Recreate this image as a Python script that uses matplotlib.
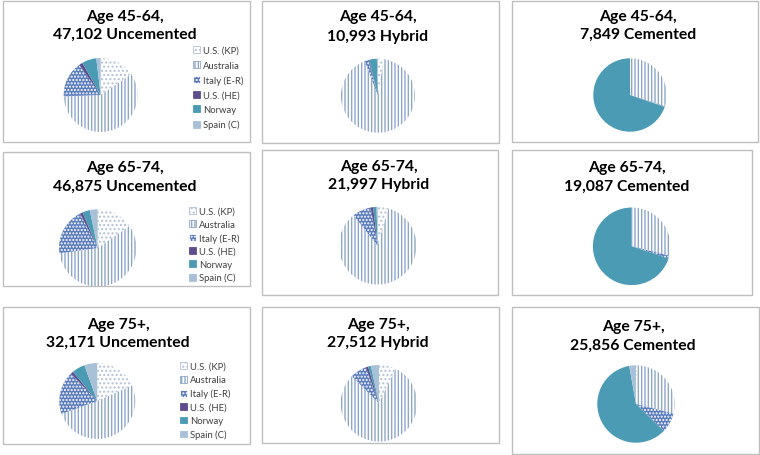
import matplotlib
matplotlib.use("Agg")
import matplotlib.pyplot as plt
from matplotlib.patches import Rectangle

plt.rcParams["font.family"] = ["Lato", "DejaVu Sans"]

W, H = 760, 456

countries = ["U.S. (KP)", "Australia", "Italy (E-R)", "U.S. (HE)", "Norway", "Spain (C)"]

# share (%) of each registry, clockwise from 12 o'clock
u45 = [15.5, 58.9, 15.8, 1.5, 6.4, 1.9]
h45 = [2.5, 91.7, 1.7, 0.3, 3.3, 0.5]
c45 = [0, 30.0, 0.3, 0, 69.7, 0]
u65 = [15.4, 57.4, 19.7, 1.1, 3.1, 3.3]
h65 = [4.5, 84.8, 7.8, 1.0, 1.4, 0.5]
c65 = [0, 28.9, 1.2, 0, 69.9, 0]
u75 = [18.3, 51.2, 18.3, 1.1, 5.6, 5.5]
h75 = [7.2, 80.3, 6.9, 1.0, 1.2, 3.4]
c75 = [0.5, 28.5, 8.3, 0, 59.9, 2.8]

titles = [
    "Age 45-64,\n47,102 Uncemented", "Age 45-64,\n10,993 Hybrid", "Age 45-64,\n7,849 Cemented",
    "Age 65-74,\n46,875 Uncemented", "Age 65-74,\n21,997 Hybrid", "Age 65-74,\n19,087 Cemented",
    "Age 75+,\n32,171 Uncemented", "Age 75+,\n27,512 Hybrid", "Age 75+,\n25,856 Cemented",
]
series = [u45, h45, c45, u65, h65, c65, u75, h75, c75]

# wedge styles: (face, hatch colour, hatch)
styles = [
    ("white", "#b4c2d8", "...."),
    ("white", "#8ea6cc", "|||||"),
    ("#5a7cbc", "white", "....."),
    ("#5e4d8e", "#5e4d8e", None),
    ("#4a9bb3", "#4a9bb3", None),
    ("#a8c0d8", "#a8c0d8", None),
]

# layout in pixels (top-left origin)
boxes = [(3, 2, 250, 143), (262, 2, 499, 144), (512, 2, 758, 143),
         (3, 153, 250, 287), (262, 151, 498, 296), (512, 151, 752, 296),
         (3, 308, 250, 445), (262, 308, 499, 444), (512, 308, 759, 455)]
pies = [(100.7, 96, 37), (378, 96.7, 37), (630, 96, 36.7),
        (97.7, 249, 38.7), (377.7, 246.7, 38.8), (631.7, 247.3, 38.8),
        (97.3, 402, 38), (379, 404.3, 38.3), (636, 405, 38.7)]
title_pos = [(125, 17, 35), (378, 17, 37), (638, 17, 35),
             (125, 168, 187), (379, 167, 185), (627, 168, 187),
             (118, 325, 343), (378, 325, 343), (633, 327, 346)]
# legend: (left x, top y, label spacing)
legend_pos = {0: (193, 47, 0.6), 3: (189, 208, 0.43), 6: (180, 363, 0.47)}

fig = plt.figure(figsize=(W / 100, H / 100), dpi=100)

for i, vals in enumerate(series):
    x0, y0, x1, y1 = boxes[i]
    fig.patches.append(Rectangle((x0 / W, 1 - y1 / H), (x1 - x0) / W, (y1 - y0) / H,
                                 transform=fig.transFigure, fill=False,
                                 edgecolor="#bfbfbf", linewidth=1))

    tx, ty1, ty2 = title_pos[i]
    line1, line2 = titles[i].split("\n")
    fig.text(tx / W, 1 - ty1 / H, line1, ha="center", va="center",
             fontsize=11.3, fontweight="bold", color="black")
    fig.text(tx / W, 1 - ty2 / H, line2, ha="center", va="center",
             fontsize=11.3, fontweight="bold", color="black")

    cx, cy, r = pies[i]
    ax = fig.add_axes([(cx - r) / W, 1 - (cy + r) / H, 2 * r / W, 2 * r / H])
    wedges, _ = ax.pie(vals, startangle=90, counterclock=False, radius=1)
    for w, (face, hc, hatch) in zip(wedges, styles):
        w.set_facecolor(face)
        w.set_edgecolor(hc)
        w.set_linewidth(0)
        if hatch:
            w.set_hatch(hatch)
    ax.set_xlim(-1, 1)
    ax.set_ylim(-1, 1)
    ax.axis("off")

    if i in legend_pos:
        lx, ly, sp = legend_pos[i]
        leg = ax.legend(wedges, countries, loc="upper left",
                        bbox_to_anchor=(lx / W, 1 - ly / H), bbox_transform=fig.transFigure,
                        frameon=False, fontsize=6.8, handlelength=0.75, handleheight=0.75,
                        handletextpad=0.35, labelspacing=sp, borderpad=0, borderaxespad=0,
                        labelcolor="#404040")
        for h in leg.legend_handles:
            h.set_linewidth(0.6)

fig.savefig("out.png", dpi=100)
